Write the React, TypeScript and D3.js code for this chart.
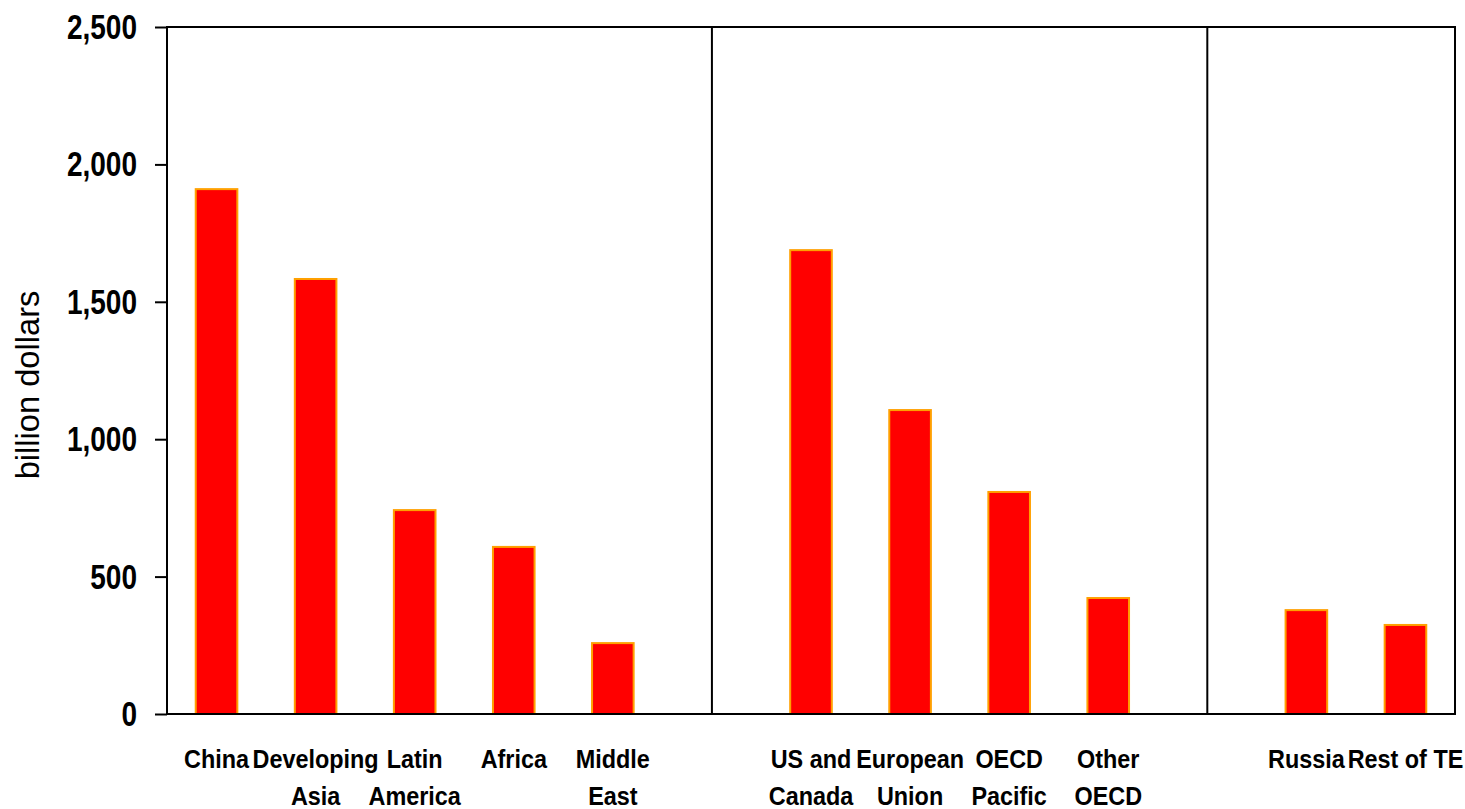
import { useRef, useEffect } from 'react'
import * as d3 from 'd3'

// '' marks the empty slots where the group separators sit
const categories = [
  'China', 'Developing Asia', 'Latin America', 'Africa', 'Middle East',
  '',
  'US and Canada', 'European Union', 'OECD Pacific', 'Other OECD',
  '',
  'Russia', 'Rest of TE',
]
const labelLines: string[][] = [
  ['China'], ['Developing', 'Asia'], ['Latin', 'America'], ['Africa'], ['Middle', 'East'],
  [],
  ['US and', 'Canada'], ['European', 'Union'], ['OECD', 'Pacific'], ['Other', 'OECD'],
  [],
  ['Russia'], ['Rest of TE'],
]
const values = [1910, 1583, 742, 608, 258, null, 1688, 1106, 808, 422, null, 378, 324]
const yTicks = [0, 500, 1000, 1500, 2000, 2500]

// no narrow font installed, so text is squeezed horizontally
const FONT = '"Liberation Sans", Arial, sans-serif'

function App() {
  const containerRef = useRef<HTMLDivElement>(null)

  useEffect(() => {
    if (!containerRef.current) return
    const container = containerRef.current
    container.innerHTML = ''

    const width = 1465
    const height = 809
    const margin = { top: 27, right: 10, bottom: 95, left: 167 }

    const svg = d3.select(container)
      .append('svg')
      .attr('width', width)
      .attr('height', height)
      .style('display', 'block')

    const x = d3.scaleBand<number>()
      .domain(categories.map((_, i) => i))
      .range([margin.left, width - margin.right])
      .paddingInner(0.58)
      .paddingOuter(0.29)

    const y = d3.scaleLinear()
      .domain([0, 2500])
      .range([height - margin.bottom, margin.top])

    const squeezed = (tx: number, ty: number, sx: number, str: string, size: number,
      anchor: string, weight: string, rotate = 0) => {
      svg.append('g')
        .attr('transform', `translate(${tx},${ty}) rotate(${rotate}) scale(${sx},1)`)
        .append('text')
        .attr('text-anchor', anchor)
        .attr('font-family', FONT)
        .attr('font-weight', weight)
        .attr('font-size', `${size}px`)
        .attr('fill', 'black')
        .text(str)
    }

    // bars
    const data = values
      .map((v, i) => ({ i, v }))
      .filter(d => d.v !== null) as { i: number; v: number }[]

    svg.selectAll('rect.bar')
      .data(data)
      .enter()
      .append('rect')
      .attr('class', 'bar')
      .attr('x', d => x(d.i)!)
      .attr('y', d => y(d.v))
      .attr('width', x.bandwidth())
      .attr('height', d => y(0) - y(d.v))
      .attr('fill', '#ff0000')
      .attr('stroke', '#ffa000')
      .attr('stroke-width', 2)

    // group separators through the empty slots
    categories.forEach((c, i) => {
      if (c !== '') return
      const sx = x(i)! + x.bandwidth() / 2
      svg.append('line')
        .attr('x1', sx).attr('x2', sx)
        .attr('y1', y(2500)).attr('y2', y(0))
        .attr('stroke', 'black')
        .attr('stroke-width', 2)
    })

    // plot frame
    svg.append('rect')
      .attr('x', margin.left)
      .attr('y', y(2500))
      .attr('width', width - margin.right - margin.left)
      .attr('height', y(0) - y(2500))
      .attr('fill', 'none')
      .attr('stroke', 'black')
      .attr('stroke-width', 2)

    // Y axis ticks
    const yAxis = svg.append('g')
      .attr('transform', `translate(${margin.left},0)`)
      .call(d3.axisLeft(y).tickValues(yTicks).tickSize(12).tickFormat(() => ''))
    yAxis.select('.domain').remove()
    yAxis.selectAll('line').attr('stroke', 'black').attr('stroke-width', 2)

    const fmt = d3.format(',')
    yTicks.forEach(t => {
      squeezed(137, y(t) + 12, 0.8, fmt(t), 35, 'end', 'bold')
    })

    // X labels
    labelLines.forEach((lines, i) => {
      if (lines.length === 0) return
      const cx = x(i)! + x.bandwidth() / 2
      lines.forEach((line, k) => {
        squeezed(cx, 768 + k * 37, 0.9, line, 26, 'middle', 'bold')
      })
    })

    // Y axis label
    squeezed(39, 385, 0.96, 'billion dollars', 34, 'middle', 'normal', -90)
  }, [])

  return <div ref={containerRef} style={{ position: 'absolute', left: 0, top: 0 }} />
}

export default App
